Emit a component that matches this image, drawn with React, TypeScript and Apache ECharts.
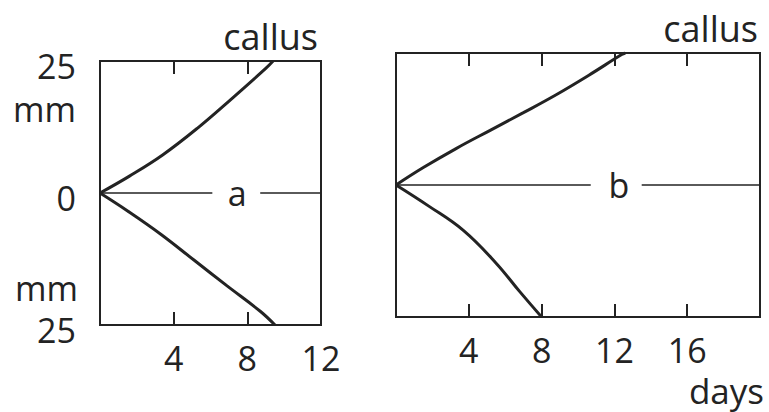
import { useEffect, useRef } from 'react';
import * as echarts from 'echarts';

// Panel a: callus growth (mm) against time (days)
const upperA: [number, number][] = [[0, 0], [1.6, 3.2], [3.4, 7.2], [5.3, 12.3], [7.1, 17.7], [9.0, 23.6], [9.4, 25]];
const lowerA: [number, number][] = [[0, 0], [1.5, -3.4], [3.3, -7.8], [5.1, -12.7], [6.9, -17.6], [8.7, -22.4], [9.5, -25]];
const baseA: [number, number][][] = [[[0, 0], [6.1, 0]], [[8.7, 0], [12, 0]]];
const tagA: [number, number] = [7.45, 0];

// Panel b
const upperB: [number, number][] = [[0, 0], [1.5, 3.3], [3.3, 6.9], [5.2, 10.4], [7.0, 13.7], [8.8, 17.1], [10.6, 20.8], [12.4, 24.7], [12.6, 25]];
const lowerB: [number, number][] = [[0, 0], [1.8, -4.0], [3.7, -8.6], [5.5, -14.8], [6.8, -20.2], [8.0, -25]];
const baseB: [number, number][][] = [[[0, 0], [10.7, 0]], [[13.5, 0], [20, 0]]];
const tagB: [number, number] = [12.25, 0];

const dayLabelsA = ['4', '8', '12'];
const dayLabelsB = ['4', '8', '12', '16'];
const mmLabels = ['25', '0', '25'];

const INK = '#232323';
const FONT = "'Open Sans', sans-serif";

export default function App() {
  const ref = useRef<HTMLDivElement>(null);

  useEffect(() => {
    if (!ref.current) return;
    const chart = echarts.init(ref.current, null, { renderer: 'svg' });

    const xBase = (gridIndex: number, max: number, position: 'top' | 'bottom', labels: string[] | null) => ({
      type: 'value',
      gridIndex,
      position,
      min: 0,
      max,
      interval: 4,
      axisLine: { show: true, onZero: false, lineStyle: { color: INK, width: 2 } },
      splitLine: { show: false },
      axisTick: { show: true, inside: true, length: 13, lineStyle: { color: INK, width: 2 } },
      axisLabel: labels
        ? {
            show: true,
            margin: 16,
            fontFamily: FONT,
            fontSize: 34,
            color: INK,
            formatter: (v: number) => (labels.includes(String(v)) ? String(v) : ''),
          }
        : { show: false },
    });

    const yBase = (gridIndex: number, showLabels: boolean) => ({
      type: 'value',
      gridIndex,
      min: -25,
      max: 25,
      interval: 25,
      axisLine: { show: true, onZero: false, lineStyle: { color: INK, width: 2 } },
      axisTick: { show: false },
      splitLine: { show: false },
      axisLabel: showLabels
        ? {
            show: true,
            margin: 24,
            formatter: (v: number) => `{t|${mmLabels[Math.round(v / 25) + 1]}}`,
            rich: {
              t: { fontFamily: FONT, fontSize: 34, color: INK, padding: [10, 0, 0, 0] },
            },
          }
        : { show: false },
    });

    const curve = (data: [number, number][], xi: number, yi: number) => ({
      type: 'line',
      xAxisIndex: xi,
      yAxisIndex: yi,
      data,
      smooth: 0.4,
      symbol: 'none',
      lineStyle: { color: INK, width: 3 },
    });

    const base = (data: [number, number][], xi: number, yi: number) => ({
      type: 'line',
      xAxisIndex: xi,
      yAxisIndex: yi,
      data,
      symbol: 'none',
      lineStyle: { color: INK, width: 1.6 },
    });

    const tag = (pt: [number, number], text: string, xi: number, yi: number) => ({
      type: 'scatter',
      xAxisIndex: xi,
      yAxisIndex: yi,
      data: [pt],
      symbolSize: 0,
      itemStyle: { color: INK, opacity: 1 },
      label: {
        show: true,
        position: 'inside',
        formatter: text,
        fontFamily: FONT,
        fontSize: 34,
        color: INK,
        opacity: 1,
      },
    });

    const word = (text: string, x: number, y: number, align: 'left' | 'right' | 'center', size = 36) => ({
      type: 'text',
      x,
      y,
      style: {
        text,
        fontFamily: FONT,
        fontSize: size,
        fill: INK,
        align,
        verticalAlign: 'middle',
      },
    });

    chart.setOption({
      animation: false,
      backgroundColor: '#ffffff',
      grid: [
        { left: 100, top: 61, width: 221, height: 264, show: true, borderColor: INK, borderWidth: 2, backgroundColor: 'transparent' },
        { left: 396, top: 53, width: 364, height: 264, show: true, borderColor: INK, borderWidth: 2, backgroundColor: 'transparent' },
      ],
      xAxis: [
        xBase(0, 12, 'bottom', dayLabelsA),
        xBase(0, 12, 'top', null),
        xBase(1, 20, 'bottom', dayLabelsB),
        xBase(1, 20, 'top', null),
      ],
      yAxis: [yBase(0, true), yBase(1, false)],
      series: [
        curve(upperA, 0, 0),
        curve(lowerA, 0, 0),
        ...baseA.map((seg) => base(seg, 0, 0)),
        tag(tagA, 'a', 0, 0),
        curve(upperB, 2, 1),
        curve(lowerB, 2, 1),
        ...baseB.map((seg) => base(seg, 2, 1)),
        tag(tagB, 'b', 2, 1),
      ],
      graphic: [
        word('callus', 318, 36, 'right'),
        word('callus', 758, 28, 'right'),
        word('mm', 76, 109, 'right', 34),
        word('mm', 78, 288, 'right', 34),
        word('days', 764, 390, 'right', 35),
      ],
    });

    return () => chart.dispose();
  }, []);

  return (
    <div
      ref={ref}
      style={{ position: 'absolute', left: 0, top: 0, width: 769, height: 412 }}
    />
  );
}
